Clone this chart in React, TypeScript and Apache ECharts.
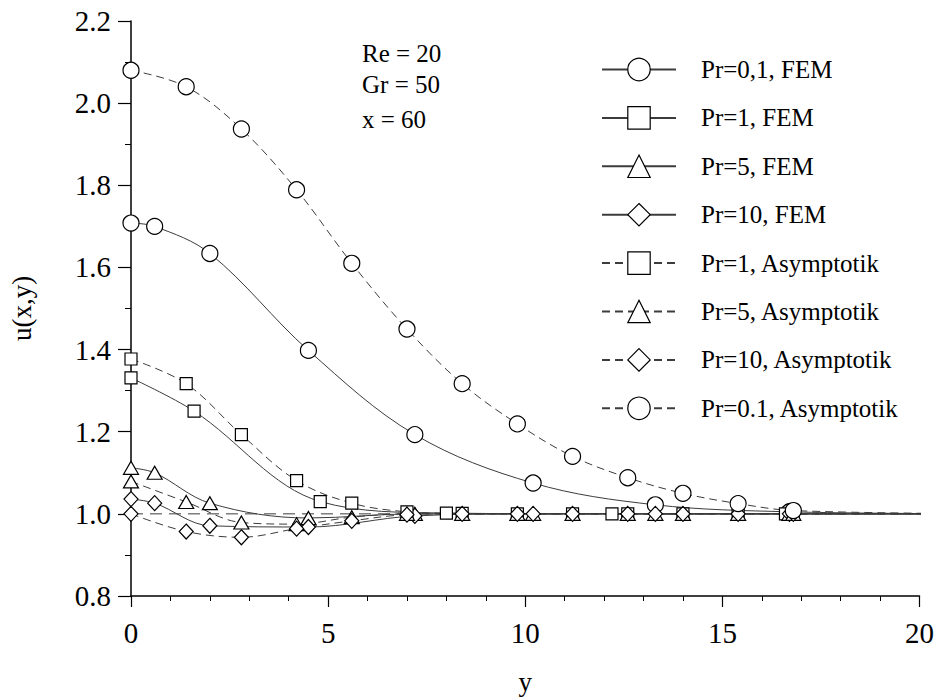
import React, { useEffect, useRef } from "react";
import * as echarts from "echarts";

// x positions of markers
const FEM_X = [0, 0.6, 2.0, 4.5, 7.2, 10.2, 13.3, 16.7];
const PR1_FEM_X = [0, 1.6, 4.8, 8.0, 12.2, 16.6];
const ASY_X = [0, 1.4, 2.8, 4.2, 5.6, 7.0, 8.4, 9.8, 11.2, 12.6, 14.0, 15.4, 16.8];
const TAIL_X = 22;

// series values u(x,y)
const pr01Fem = [1.708, 1.700, 1.634, 1.398, 1.193, 1.075, 1.022, 1.005];
const pr1Fem = [1.331, 1.250, 1.030, 1.002, 1.000, 1.000];
const pr5Fem = [1.112, 1.100, 1.026, 0.990, 1.000, 1.000, 1.000, 1.000];
const pr10Fem = [1.036, 1.026, 0.971, 0.968, 0.995, 1.000, 1.000, 1.000];
const pr1Asy = [1.377, 1.317, 1.193, 1.081, 1.026, 1.005, 1.001, 1.0, 1.0, 1.0, 1.0, 1.0, 1.0];
const pr5Asy = [1.079, 1.029, 0.979, 0.975, 0.992, 1.0, 1.0, 1.0, 1.0, 1.0, 1.0, 1.0, 1.0];
const pr10Asy = [1.000, 0.957, 0.943, 0.964, 0.983, 0.998, 1.0, 1.0, 1.0, 1.0, 1.0, 1.0, 1.0];
const pr01Asy = [2.080, 2.040, 1.937, 1.789, 1.610, 1.450, 1.317, 1.219, 1.140, 1.088, 1.050, 1.025, 1.008];
const baselineX = [0, TAIL_X];
const baselineY = [1.0, 1.0];

const X_TICKS = [0, 5, 10, 15, 20];
const annotations = ["Re = 20", "Gr = 50", "x = 60"];

const FONT = "Liberation Serif";
const LINE = "#3c3c3c";

function mk(name: string, xs: number[], ys: number[], symbol: string, size: any, dashed: boolean) {
  const data: any[] = xs.map((x, i) => [x, ys[i]]);
  data.push({ value: [TAIL_X, 1.0], symbol: "none" });
  return {
    name,
    type: "line",
    data,
    symbol,
    symbolSize: size,
    smooth: 0.35,
    clip: false,
    showAllSymbol: true,
    lineStyle: { color: LINE, width: 1, type: dashed ? [8, 5] : "solid" },
    itemStyle: { color: "#fff", borderColor: "#000", borderWidth: 1.2 },
    emphasis: { disabled: true },
  };
}

export default function App() {
  const ref = useRef<HTMLDivElement>(null);
  useEffect(() => {
    const chart = echarts.init(ref.current!, null, { renderer: "svg" });
    const series: any[] = [
      mk("Pr=0,1, FEM", FEM_X, pr01Fem, "circle", 16, false),
      mk("Pr=1, FEM", PR1_FEM_X, pr1Fem, "rect", 12, false),
      mk("Pr=5, FEM", FEM_X, pr5Fem, "triangle", [15, 13], false),
      mk("Pr=10, FEM", FEM_X, pr10Fem, "diamond", [14, 15], false),
      mk("Pr=1, Asymptotik", ASY_X, pr1Asy, "rect", 12, true),
      mk("Pr=5, Asymptotik", ASY_X, pr5Asy, "triangle", [15, 13], true),
      mk("Pr=10, Asymptotik", ASY_X, pr10Asy, "diamond", [14, 15], true),
      mk("Pr=0.1, Asymptotik", ASY_X, pr01Asy, "circle", 16, true),
      {
        name: "base",
        type: "line",
        data: baselineX.map((x, i) => [x, baselineY[i]]),
        symbol: "none",
        clip: false,
        lineStyle: { color: LINE, width: 1, type: [12, 7] },
        silent: true,
      },
    ];
    chart.setOption({
      animation: false,
      backgroundColor: "#fff",
      grid: { left: 118, right: 15, top: 21, bottom: 91, containLabel: false },
      xAxis: {
        type: "value",
        min: 0,
        max: 20,
        interval: 5,
        name: "y",
        nameLocation: "middle",
        nameGap: 72,
        nameTextStyle: { fontFamily: FONT, fontSize: 27, color: "#000" },
        axisLine: { onZero: false, lineStyle: { color: "#000", width: 1.5 } },
        axisTick: { length: 11, lineStyle: { color: "#000", width: 1.2 } },
        minorTick: { show: true, splitNumber: 5, length: 5, lineStyle: { color: "#000", width: 1 } },
        axisLabel: {
          margin: 22,
          fontFamily: FONT,
          fontSize: 29,
          color: "#000",
          formatter: (v: number) => (X_TICKS.includes(v) ? String(v) : ""),
        },
        splitLine: { show: false },
      },
      yAxis: {
        type: "value",
        min: 0.8,
        max: 2.2,
        interval: 0.2,
        name: "u(x,y)",
        nameLocation: "middle",
        nameRotate: 90,
        nameGap: 96,
        nameTextStyle: { fontFamily: FONT, fontSize: 27, color: "#000" },
        axisLine: { onZero: false, lineStyle: { color: "#000", width: 1.5 } },
        axisTick: { length: 13, lineStyle: { color: "#000", width: 1.2 } },
        minorTick: { show: true, splitNumber: 2, length: 6, lineStyle: { color: "#000", width: 1 } },
        axisLabel: {
          margin: 20,
          fontFamily: FONT,
          fontSize: 29,
          color: "#000",
          formatter: (v: number) => v.toFixed(1),
        },
        splitLine: { show: false },
      },
      legend: {
        data: series.slice(0, 8).map((s) => s.name),
        orient: "vertical",
        left: 596,
        top: 52,
        itemWidth: 74,
        itemHeight: 28,
        itemGap: 23.4,
        align: "left",
        selectedMode: false,
        itemStyle: { color: "#fff", borderColor: "#000", borderWidth: 1.2 },
        textStyle: { fontFamily: FONT, fontSize: 25, color: "#000", padding: [0, 0, 0, 20] },
      },
      graphic: annotations.map((t, i) => ({
        type: "text",
        left: 362,
        top: [41, 72, 107][i],
        style: { text: t, font: `25px "${FONT}"`, fill: "#000" },
      })),
      series,
    });
    return () => chart.dispose();
  }, []);
  return <div ref={ref} style={{ position: "fixed", left: 0, top: 0, width: 937, height: 700 }} />;
}
